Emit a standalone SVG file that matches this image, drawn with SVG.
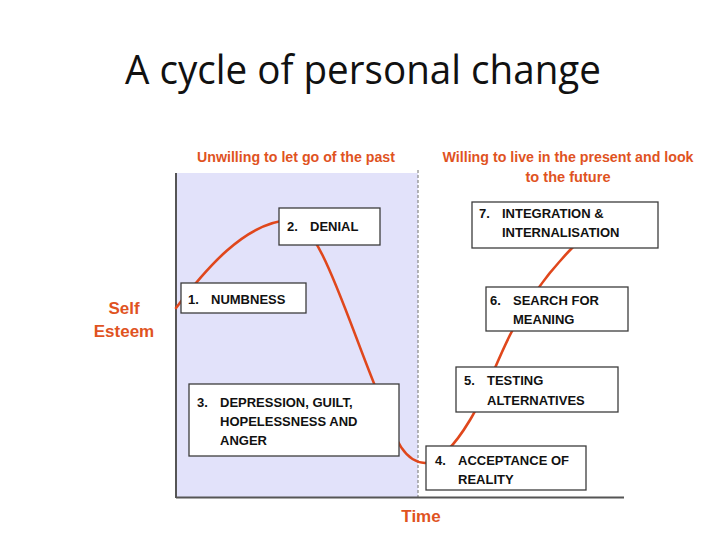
<svg xmlns="http://www.w3.org/2000/svg" width="728" height="546" viewBox="0 0 728 546">
<defs>
<style>
.box{fill:#fff;stroke:#3c3c3c;stroke-width:1.3}
.bt{font-family:"Liberation Sans",Arial,sans-serif;font-weight:bold;font-size:13px;fill:#111}
.hd{font-family:"Liberation Sans",Arial,sans-serif;font-weight:bold;font-size:14px;fill:#E0531F}
.ax{font-family:"Liberation Sans",Arial,sans-serif;font-weight:bold;font-size:17px;fill:#E0531F}
.curve{fill:none;stroke:#E0471C;stroke-width:2.6;stroke-linecap:round}
</style>
</defs>
<rect width="728" height="546" fill="#fff"/>
<text x="363" y="84" text-anchor="middle" font-family="'Open Sans',sans-serif" font-size="40" fill="#111" textLength="476" lengthAdjust="spacingAndGlyphs">A cycle of personal change</text>
<g id="background">
<rect x="176" y="173" width="242" height="324" fill="#E2E2FA"/>
<line x1="418" y1="170" x2="418" y2="497" stroke="#888" stroke-width="1.2" stroke-dasharray="3,2"/>
<line x1="176" y1="173" x2="176" y2="498" stroke="#555" stroke-width="2"/>
<line x1="176" y1="497.5" x2="624" y2="497.5" stroke="#555" stroke-width="2"/>
</g>
<g id="labels">
<text class="hd" x="296" y="162" text-anchor="middle" textLength="198" lengthAdjust="spacingAndGlyphs">Unwilling to let go of the past</text>
<text class="hd" x="568" y="162" text-anchor="middle" textLength="251" lengthAdjust="spacingAndGlyphs">Willing to live in the present and look</text>
<text class="hd" x="568" y="182" text-anchor="middle" textLength="85" lengthAdjust="spacingAndGlyphs">to the future</text>
<text class="ax" x="124" y="314" text-anchor="middle">Self</text>
<text class="ax" x="124" y="337" text-anchor="middle">Esteem</text>
<text class="ax" x="421" y="522" text-anchor="middle">Time</text>
</g>
<g id="connectors">
<path class="curve" d="M176,308 C205,270 245,222 290,220 C320,218 350,330 385,410 C395,440 405,462 425,463 C440,462 455,445 470,420 C485,395 495,365 510,335 C525,305 545,275 575,245"/>
</g>
<g id="n1"><rect class="box" x="181" y="283" width="125" height="30"/><text class="bt" x="188" y="304">1.</text><text class="bt" x="211" y="304">NUMBNESS</text></g>
<g id="n2"><rect class="box" x="279" y="208" width="101" height="37"/><text class="bt" x="287" y="231">2.</text><text class="bt" x="310" y="231">DENIAL</text></g>
<g id="n3"><rect class="box" x="189" y="384" width="210" height="72"/><text class="bt" x="197" y="407">3.</text><text class="bt" x="220" y="407">DEPRESSION, GUILT,</text><text class="bt" x="220" y="426">HOPELESSNESS  AND</text><text class="bt" x="220" y="445">ANGER</text></g>
<g id="n4"><rect class="box" x="426" y="446" width="160" height="44"/><text class="bt" x="435" y="465">4.</text><text class="bt" x="458" y="465">ACCEPTANCE OF</text><text class="bt" x="458" y="484">REALITY</text></g>
<g id="n5"><rect class="box" x="456" y="367" width="162" height="45"/><text class="bt" x="464" y="385">5.</text><text class="bt" x="487" y="385">TESTING</text><text class="bt" x="487" y="405">ALTERNATIVES</text></g>
<g id="n6"><rect class="box" x="486" y="287" width="142" height="44"/><text class="bt" x="490" y="305">6.</text><text class="bt" x="513" y="305">SEARCH FOR</text><text class="bt" x="513" y="324">MEANING</text></g>
<g id="n7"><rect class="box" x="472" y="202" width="186" height="46"/><text class="bt" x="479" y="218">7.</text><text class="bt" x="502" y="218">INTEGRATION &amp;</text><text class="bt" x="502" y="237">INTERNALISATION</text></g>
</svg>
